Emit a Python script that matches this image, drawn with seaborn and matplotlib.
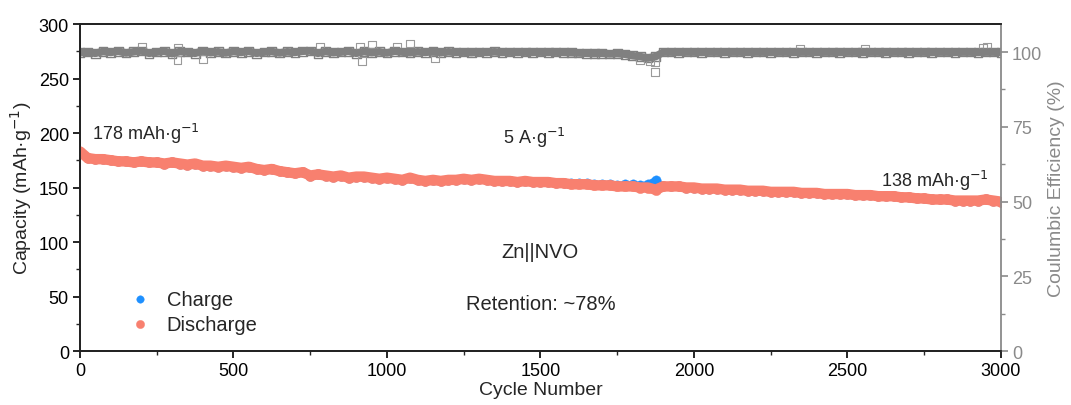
import numpy as np
import pandas as pd
import matplotlib
matplotlib.use("Agg")
import matplotlib.pyplot as plt
from matplotlib.ticker import MultipleLocator
import seaborn as sns

# ---------------- data ----------------
cycles = list(range(0, 3001, 25))

discharge = [183, 177, 176, 176, 175, 174, 174, 173, 174, 173,
             173, 172, 173, 172, 171, 172, 170, 170, 169, 170,
             169, 168, 169, 167, 166, 167, 165, 164, 163, 164,
             161, 162, 161, 160, 161, 159, 160, 160, 159, 158,
             159, 158, 157, 159, 157, 156, 157, 156, 157, 157,
             158, 157, 158, 157, 156, 156, 156, 155, 156, 155,
             155, 155, 154, 154, 153, 153, 153, 152, 152, 152,
             151, 151, 151, 150, 150, 148, 151, 151, 151, 150,
             150, 149, 149, 149, 148, 148, 148, 147, 147, 147,
             146, 146, 146, 146, 145, 145, 145, 144, 144, 144,
             144, 143, 143, 143, 142, 142, 142, 141, 141, 140,
             140, 139, 139, 139, 138, 138, 138, 138, 139, 138,
             137]

charge = [182, 177, 176, 176, 175, 174, 174, 173, 174, 173,
          173, 172, 173, 172, 171, 172, 170, 170, 169, 170,
          169, 168, 169, 167, 166, 167, 165, 164, 163, 164,
          161, 162, 161, 160, 161, 159, 160, 160, 159, 158,
          159, 158, 157, 159, 157, 156, 157, 156, 157, 157,
          158, 157, 158, 157, 156, 156, 156, 155, 156, 155,
          155, 155, 154, 154, 154, 154, 154, 153, 153, 153,
          152, 153, 153, 152, 153, 157, 151, 151, 151, 150,
          150, 149, 149, 149, 148, 148, 148, 147, 147, 147,
          146, 146, 146, 146, 145, 145, 145, 144, 144, 144,
          144, 143, 143, 143, 142, 142, 142, 141, 141, 140,
          140, 139, 139, 139, 138, 138, 138, 138, 139, 138,
          137]

ce = [99.8, 100.0, 99.6, 100.2, 99.9, 100.3, 99.7, 100.1, 100.4, 99.6,
      100.0, 100.3, 99.5, 100.2, 100.0, 99.6, 100.4, 99.8, 100.1, 99.7,
      100.2, 99.9, 100.3, 99.6, 100.0, 100.2, 99.7, 100.1, 99.9, 100.3,
      100.4, 99.6, 100.2, 99.8, 100.0, 100.3, 99.6, 100.2, 99.8, 100.1,
      99.7, 100.3, 100.0, 99.8, 100.1, 99.9, 100.2, 99.8, 100.1, 99.9,
      100.0, 99.8, 100.0, 99.9, 100.1, 99.9, 100.0, 99.9, 100.0, 99.9,
      100.0, 99.9, 100.0, 99.9, 99.8, 99.7, 99.6, 99.5, 99.6, 99.4,
      99.5, 99.3, 98.8, 98.5, 98.0, 98.5, 100.0, 100.0, 99.9, 100.0,
      100.0, 99.9, 100.0, 100.0, 99.9, 100.0, 100.0, 99.9, 100.0, 100.0,
      99.9, 100.0, 100.0, 99.9, 100.0, 100.0, 99.9, 100.0, 100.0, 99.9,
      100.0, 100.0, 99.9, 100.0, 100.0, 99.9, 100.0, 100.0, 99.9, 100.0,
      100.0, 99.9, 100.0, 100.0, 99.9, 100.0, 100.0, 99.9, 100.0, 100.0,
      99.9]

ce_out_cycles = [202, 319, 782, 912, 951, 1032, 1075, 318, 400, 918, 1156,
                 1824, 1857, 1873, 1873, 2345, 2557, 2941, 2955]
ce_out_values = [101.8, 101.5, 101.8, 101.8, 102.5, 101.9, 102.9, 97.4, 97.6, 97.0, 97.8,
                 97.4, 97.0, 96.6, 93.3, 101.1, 101.1, 101.6, 101.9]

# ---------------- plotting ----------------
sns.set_theme(style="ticks")
plt.rcParams["font.family"] = ["Liberation Sans", "DejaVu Sans"]

GRAY = "#808080"
LGRAY = "#8a8a8a"
RED = "#F8806F"
BLUE = "#1E90FF"

df = pd.DataFrame({"cycle": cycles, "Charge": charge, "Discharge": discharge, "CE": ce})
df_out = pd.DataFrame({"cycle": ce_out_cycles, "CE": ce_out_values})

fig = plt.figure(figsize=(10.71, 4.06), dpi=100)
ax = fig.add_axes([0.0747, 0.133, 0.8599, 0.8054])
ax2 = ax.twinx()

# charge (underneath)
sns.lineplot(data=df, x="cycle", y="Charge", ax=ax, color=BLUE, lw=4.5,
             estimator=None, sort=False, legend=False, zorder=2)
sns.scatterplot(data=df, x="cycle", y="Charge", ax=ax, color=BLUE, s=45,
                edgecolor=BLUE, linewidth=0.3, label="Charge", zorder=3)
# discharge (on top)
sns.lineplot(data=df, x="cycle", y="Discharge", ax=ax, color=RED, lw=7.5,
             estimator=None, sort=False, legend=False, zorder=4)
sns.scatterplot(data=df, x="cycle", y="Discharge", ax=ax, color=RED, s=55,
                edgecolor=RED, linewidth=0.3, label="Discharge", zorder=5)

# coulombic efficiency
sns.lineplot(data=df, x="cycle", y="CE", ax=ax2, color=GRAY, lw=5.5,
             estimator=None, sort=False, legend=False)
sns.scatterplot(data=df, x="cycle", y="CE", ax=ax2, marker="s", s=40,
                facecolor="none", edgecolor=GRAY, linewidth=1.0, legend=False)
sns.scatterplot(data=df_out, x="cycle", y="CE", ax=ax2, marker="s", s=30,
                facecolor="none", edgecolor="#9a9a9a", linewidth=0.8, legend=False)

ax.set_xlim(0, 3000)
ax.set_ylim(0, 300)
ax2.set_ylim(0, 109.4)

ax.xaxis.set_major_locator(MultipleLocator(500))
ax.xaxis.set_minor_locator(MultipleLocator(250))
ax.yaxis.set_major_locator(MultipleLocator(50))
ax.yaxis.set_minor_locator(MultipleLocator(25))
ax2.yaxis.set_major_locator(MultipleLocator(25))
ax2.yaxis.set_minor_locator(MultipleLocator(12.5))

ax.set_xlabel("Cycle Number", fontsize=14, labelpad=1)
ax.set_ylabel("Capacity (mAh·g$^{-1}$)", fontsize=14, labelpad=3)
ax2.set_ylabel("Coulumbic Efficiency (%)", fontsize=14, color=LGRAY, labelpad=4)

ax.tick_params(axis="both", which="major", direction="out", length=5, width=1.2,
               labelsize=13, colors="black", pad=3)
ax.tick_params(axis="both", which="minor", direction="out", length=3, width=1.0)
ax2.tick_params(axis="y", which="major", direction="out", length=5, width=1.2,
                labelsize=13, colors=LGRAY, pad=3)
ax2.tick_params(axis="y", which="minor", direction="out", length=3, width=1.0, colors=LGRAY)

for sp in ["left", "bottom", "top"]:
    ax.spines[sp].set_color("#222222")
    ax.spines[sp].set_linewidth(1.3)
    ax2.spines[sp].set_color("#222222")
    ax2.spines[sp].set_linewidth(1.3)
ax.spines["right"].set_visible(False)
ax2.spines["right"].set_color(LGRAY)
ax2.spines["right"].set_linewidth(1.3)
ax.spines["top"].set_visible(True)

ax.text(40, 200, "178 mAh·g$^{-1}$", fontsize=13, ha="left", va="center")
ax.text(1480, 196, "5 A·g$^{-1}$", fontsize=13, ha="center", va="center")
ax.text(2960, 157, "138 mAh·g$^{-1}$", fontsize=13, ha="right", va="center")
ax.text(1500, 91, "Zn||NVO", fontsize=14.5, ha="center", va="center")
ax.text(1500, 44, "Retention: ~78%", fontsize=14.5, ha="center", va="center")

leg = ax.legend(loc="upper left", bbox_to_anchor=(0.032, 0.243), frameon=False,
                fontsize=14.5, handletextpad=0.75, labelspacing=0.3, markerscale=0.8,
                handlelength=1.2)

fig.savefig("out.png", dpi=100)
